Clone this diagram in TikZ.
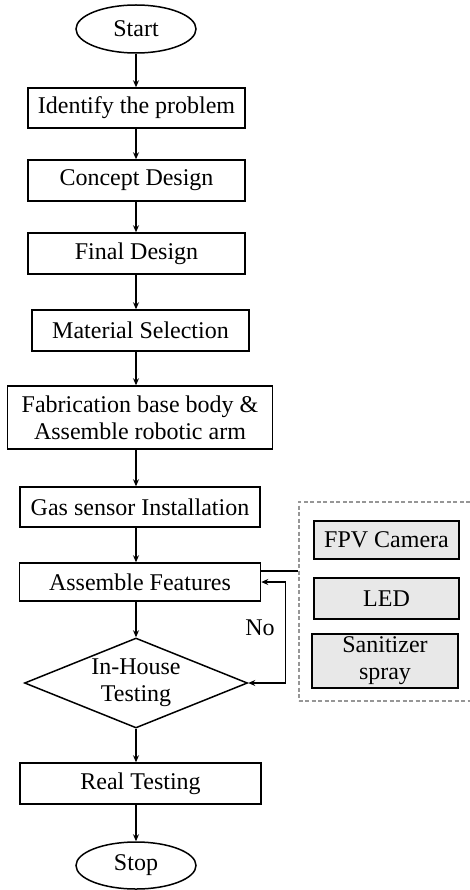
\documentclass[tikz,border=0pt]{standalone}
\usepackage{fontspec}
\setmainfont{Liberation Serif}
\usetikzlibrary{shapes.geometric, arrows.meta}

\definecolor{featgray}{RGB}{232,232,232}
\definecolor{dashgray}{RGB}{150,150,150}

\tikzset{
    stepbox/.style={draw, line width=1.5pt, inner sep=0pt, align=center,
        font=\fontsize{24}{27}\selectfont},
    termbox/.style={stepbox, ellipse, minimum width=120pt, minimum height=48pt},
    featbox/.style={stepbox, fill=featgray},
    flow/.style={->, >={Stealth[length=7pt,width=6pt]}, line width=1.3pt},
}

\begin{document}
\begin{tikzpicture}[x=1pt, y=-1pt]
        \useasboundingbox (0,0) rectangle (469,890);
        % Main flow
        \node[termbox] (start) at (136,29) {Start};
        \node[stepbox, minimum width=217pt, minimum height=40pt] (identify) at (136.5,108) {Identify the problem};
        \node[stepbox, minimum width=217pt, minimum height=41pt] (concept) at (136.5,180.5) {Concept Design};
        \node[stepbox, minimum width=217pt, minimum height=41pt] (final) at (136.5,253.5) {Final Design};
        \node[stepbox, minimum width=217pt, minimum height=41pt] (material) at (140.5,330.5) {Material Selection};
        \node[stepbox, minimum width=265pt, minimum height=63pt] (fab) at (140,417.5) {Fabrication base body \&\\Assemble robotic arm};
        \node[stepbox, minimum width=240pt, minimum height=40pt] (gas) at (140,507) {Gas sensor Installation};
        \node[stepbox, minimum width=241pt, minimum height=38pt] (assemble) at (140,582) {Assemble Features};
        \node[stepbox, diamond, aspect=2.48, inner sep=-6pt, minimum width=223pt, minimum height=90pt] (test) at (136,683) {In-House\\Testing};
        \node[stepbox, minimum width=241pt, minimum height=41pt] (real) at (140.5,783.5) {Real Testing};
        \node[termbox, minimum height=47pt] (stop) at (136,865.5) {Stop};
        % Features group
        \node[draw=dashgray, dash pattern=on 4pt off 2.5pt, line width=2pt, minimum width=178pt, minimum height=199pt, inner sep=0pt] (feat) at (387.5,601) {};
        \node[featbox, minimum width=145pt, minimum height=38pt] (fpv) at (386.5,540) {FPV Camera};
        \node[featbox, minimum width=145pt, minimum height=41pt] (led) at (386.5,598.5) {LED};
        \node[featbox, minimum width=146pt, minimum height=54pt] (spray) at (385,661) {Sanitizer\\spray};
        % Arrows
        \draw[flow] (start.south) -- (start.south |- identify.north);
        \draw[flow] (identify.south -| start) -- (start |- concept.north);
        \draw[flow] (concept.south -| start) -- (start |- final.north);
        \draw[flow] (final.south -| start) -- (start |- material.north);
        \draw[flow] (material.south -| start) -- (start |- fab.north);
        \draw[flow] (fab.south -| start) -- (start |- gas.north);
        \draw[flow] (gas.south -| start) -- (start |- assemble.north);
        \draw[flow] (assemble.south -| start) -- (test.north);
        \draw[flow] (test.south) -- (start |- real.north);
        \draw[flow] (real.south -| start) -- (stop.north);
        % Features link
        \draw[line width=1.3pt] ([yshift=11pt]assemble.east) -- ([yshift=11pt]assemble.east -| feat.west);
        % No loop
        \draw[flow, <->] (test.east) -- ++(37,0) |- (assemble.east);
        \node[font=\fontsize{24}{27}\selectfont] (no) at (260,628) {No};
\end{tikzpicture}
\end{document}
